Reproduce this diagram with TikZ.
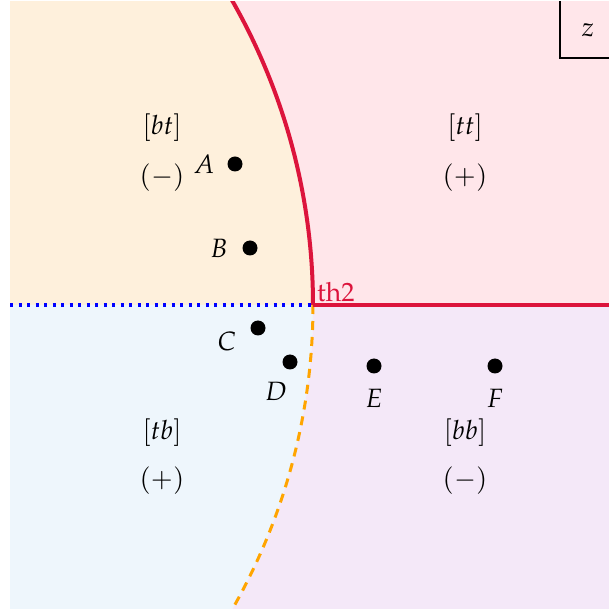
\documentclass[tikz,border=0pt]{standalone}
\usepackage{mathpazo}
\definecolor{cTL}{HTML}{FEF0DC}
\definecolor{cTR}{HTML}{FFE6EA}
\definecolor{cBL}{HTML}{EEF6FC}
\definecolor{cBR}{HTML}{F4E8F8}
\definecolor{cRed}{HTML}{DC143C}
\definecolor{cBlue}{HTML}{0000FF}
\definecolor{cOrange}{HTML}{FFA500}
\tikzset{
  lab/.style={font=\fontsize{26.5}{31}\selectfont, inner sep=0pt},
  pt/.style={circle, fill=black, inner sep=0pt, minimum size=15pt},
  redline/.style={draw=cRed, line width=4pt},
}
\begin{document}
\begin{tikzpicture}[x=1pt,y=1pt]
\useasboundingbox (0,0) rectangle (609,614);
\begin{scope}
\clip (10,5) rectangle (609,612);
\fill[cTL] (10,309) -- (313,309) arc[start angle=0,end angle=32,radius=613.8] -- (10,640) -- cycle;
\fill[cTR] (313,309) arc[start angle=0,end angle=32,radius=613.8] -- (609,640) -- (609,309) -- cycle;
\fill[cBL] (10,309) -- (313,309) arc[start angle=0,end angle=-32,radius=613.8] -- (10,-20) -- cycle;
\fill[cBR] (313,309) arc[start angle=0,end angle=-32,radius=613.8] -- (609,-20) -- (609,309) -- cycle;
\coordinate (O) at (313,309);
\coordinate (L) at (10,309);
\coordinate (R) at (609,309);
\draw[redline] (O) arc[start angle=0,end angle=32,radius=613.8];
\draw[cOrange, line width=3pt, dash pattern=on 9pt off 7pt] (O) arc[start angle=0,end angle=-32,radius=613.8];
\draw[cBlue, line width=3.3pt, dash pattern=on 3.3pt off 5.2pt] (L) -- (O);
\draw[redline] (O) -- (R);
\coordinate (z1) at (560,614);
\coordinate (z2) at (560,556);
\coordinate (z3) at (611,556);
\draw[black, line width=1.8pt] (z1) -- (z2) -- (z3);
\end{scope}
\node[lab] (zl) at (588,584) {$z$};
\node[lab, text=cRed, anchor=base west] (th) at (317,312) {$\mathrm{th2}$};
% region labels
\node[lab] (bt) at (162,486) {$[bt]$};
\node[lab] (btS) at (162,436) {$(-)$};
\node[lab] (tt) at (465,486) {$[tt]$};
\node[lab] (ttS) at (465,436) {$(+)$};
\node[lab] (tb) at (162,181) {$[tb]$};
\node[lab] (tbS) at (162,133) {$(+)$};
\node[lab] (bb) at (465,181) {$[bb]$};
\node[lab] (bbS) at (465,133) {$(-)$};
% points
\node[pt] (A) at (235,450) {};
\node[lab] (Al) at (204,450) {$A$};
\node[pt] (B) at (250,366) {};
\node[lab] (Bl) at (219,366) {$B$};
\node[pt] (C) at (258,286) {};
\node[lab] (Cl) at (227,273) {$C$};
\node[pt] (D) at (290,252) {};
\node[lab] (Dl) at (276,223) {$D$};
\node[pt] (E) at (374,248) {};
\node[lab] (El) at (374,216) {$E$};
\node[pt] (F) at (495,248) {};
\node[lab] (Fl) at (495,216) {$F$};
\end{tikzpicture}
\end{document}
